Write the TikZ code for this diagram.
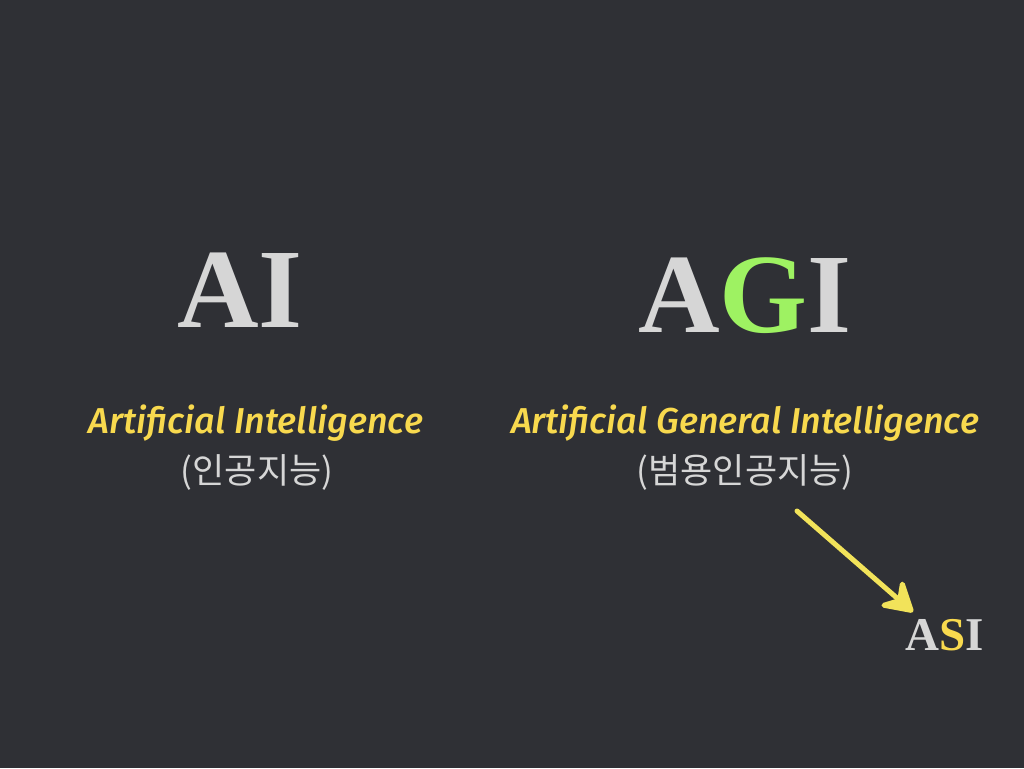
\documentclass[tikz,border=0pt]{standalone}
\usepackage{fontspec}
\usetikzlibrary{arrows.meta}
\setmainfont{Liberation Serif}
\newfontfamily\hand{Fira Sans}[ItalicFont={Fira Sans Medium Italic}]
\newfontfamily\kor{Noto Sans CJK KR}
\definecolor{bgdark}{HTML}{2F3035}
\definecolor{lightgray}{HTML}{D6D6D6}
\definecolor{limegreen}{HTML}{9EF262}
\definecolor{titleyellow}{HTML}{F8D94E}
\definecolor{chalkyellow}{HTML}{F2E35A}
\tikzset{
  bigword/.style={anchor=base, inner sep=0pt, text=lightgray, font=\fontsize{113}{113}\selectfont\bfseries},
  fullname/.style={anchor=base, inner sep=0pt, text=titleyellow, font=\hand\itshape\fontsize{36}{36}\selectfont},
  korean/.style={anchor=center, inner sep=0pt, text=lightgray, font=\kor\fontsize{35}{35}\selectfont},
  smallword/.style={anchor=base, inner sep=0pt, text=lightgray, font=\fontsize{47}{47}\selectfont\bfseries},
  chalk/.style={draw=chalkyellow, line width=5pt, line cap=round,
    -{Stealth[length=36pt, width=42pt, inset=13pt, round]}}
}
\begin{document}
\begin{tikzpicture}[x=1pt, y=-1pt]
  \fill[bgdark] (0,0) rectangle (1024,768);
  \useasboundingbox (0,0) rectangle (1024,768);

  % left column: AI
  \node[bigword] (ai) at (240,327) {AI};
  \node[fullname] (ainame) at (256,433) {Artificial Intelligence};
  \node[korean] (aiko) at (257,472) {(인공지능)};

  % right column: AGI
  \node[bigword] (agi) at (745,332) {A\textcolor{limegreen}{G}I};
  \node[fullname] (aginame) at (745,433) {Artificial General Intelligence};
  \node[korean] (agiko) at (745,472) {(범용인공지능)};

  % ASI with its pointer
  \node[smallword] (asi) at (945,650) {A\textcolor{titleyellow}{S}I};
  \coordinate (pstart) at (797,511);
  \coordinate (ptip) at (913,612);
  \draw[chalk] (pstart) -- (ptip);
\end{tikzpicture}
\end{document}
